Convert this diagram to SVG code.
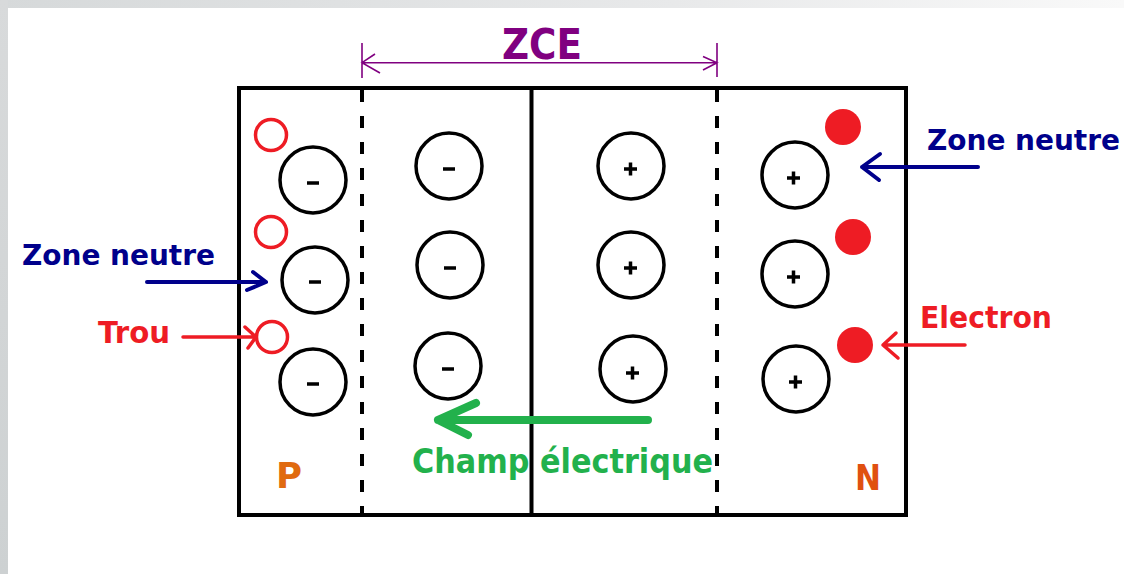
<svg xmlns="http://www.w3.org/2000/svg" width="1124" height="574" viewBox="0 0 1124 574">
  <defs>
    <linearGradient id="topg" x1="0" y1="0" x2="1" y2="0">
      <stop offset="0" stop-color="#d6d9da"/>
      <stop offset="0.6" stop-color="#e8e9ea"/>
      <stop offset="1" stop-color="#f9f9f9"/>
    </linearGradient>
    <linearGradient id="leftg" x1="0" y1="0" x2="0" y2="1">
      <stop offset="0" stop-color="#d8dadb"/>
      <stop offset="1" stop-color="#cdd1d2"/>
    </linearGradient>
  </defs>
  <style>
    .box{fill:none;stroke:#000;stroke-width:4}
    .dash{stroke:#000;stroke-width:4;stroke-dasharray:12 14}
    .ion{fill:none;stroke:#000;stroke-width:3.5}
    .sign{stroke:#000;stroke-width:3.5;stroke-linecap:butt}
    .hole{fill:none;stroke:#ee1c24;stroke-width:3.5}
    .elec{fill:#ee1c24}
    .lbl{font-family:"DejaVu Sans","Liberation Sans",sans-serif;font-weight:bold}
    .blue{fill:#00008b}
    .red{fill:#ee1c24}
    .barrow{fill:none;stroke:#00008b;stroke-width:4;stroke-linecap:round;stroke-linejoin:round}
    .rarrow{fill:none;stroke:#ee1c24;stroke-width:3.5;stroke-linecap:round;stroke-linejoin:round}
    .garrow{fill:none;stroke:#22b14c;stroke-width:8;stroke-linecap:round;stroke-linejoin:round}
    .parrow{fill:none;stroke:#800080;stroke-width:1.6}
  </style>
  <rect x="0" y="0" width="1124" height="574" fill="#ffffff"/>
  <rect x="0" y="0" width="1124" height="8" fill="url(#topg)"/>
  <rect x="0" y="0" width="8" height="574" fill="url(#leftg)"/>

  <g id="junction">
    <rect class="box" x="239" y="88" width="667" height="427"/>
    <line class="dash" x1="362" y1="90" x2="362" y2="513"/>
    <line class="dash" x1="717" y1="90" x2="717" y2="513"/>
    <line x1="531.5" y1="88" x2="531.5" y2="515" stroke="#000" stroke-width="4"/>
  </g>

  <g id="ions-minus">
    <circle class="ion" cx="313" cy="180" r="33"/><line class="sign" x1="307" y1="183" x2="319" y2="183"/>
    <circle class="ion" cx="315" cy="280" r="33"/><line class="sign" x1="309" y1="282" x2="321" y2="282"/>
    <circle class="ion" cx="313" cy="382" r="33"/><line class="sign" x1="307" y1="384" x2="319" y2="384"/>
    <circle class="ion" cx="449" cy="166" r="33"/><line class="sign" x1="443" y1="169" x2="455" y2="169"/>
    <circle class="ion" cx="450" cy="265" r="33"/><line class="sign" x1="444" y1="268" x2="456" y2="268"/>
    <circle class="ion" cx="448" cy="366" r="33"/><line class="sign" x1="442" y1="369" x2="454" y2="369"/>
  </g>

  <g id="ions-plus">
    <circle class="ion" cx="631" cy="166" r="33"/><path class="sign" d="M624 169h13M630.5 162.5v13"/>
    <circle class="ion" cx="631" cy="265" r="33"/><path class="sign" d="M624 268h13M630.5 261.5v13"/>
    <circle class="ion" cx="633" cy="369" r="33"/><path class="sign" d="M626 373h13M632.5 366.5v13"/>
    <circle class="ion" cx="795" cy="175" r="33"/><path class="sign" d="M787 178h13M793.5 171.5v13"/>
    <circle class="ion" cx="795" cy="274" r="33"/><path class="sign" d="M787 277h13M793.5 270.5v13"/>
    <circle class="ion" cx="796" cy="379" r="33"/><path class="sign" d="M789 382h13M795.5 375.5v13"/>
  </g>

  <g id="holes">
    <circle class="hole" cx="271" cy="135" r="15.5"/>
    <circle class="hole" cx="271" cy="232" r="15.5"/>
    <circle class="hole" cx="272" cy="337" r="15.5"/>
  </g>

  <g id="electrons">
    <circle class="elec" cx="843" cy="127" r="18"/>
    <circle class="elec" cx="853" cy="237" r="18"/>
    <circle class="elec" cx="855" cy="345" r="18"/>
  </g>

  <g id="connectors">
    <path class="barrow" d="M978 167H862M880 154L862 167L879 180"/>
    <path class="barrow" d="M147 282H266M253 272L266 282L247 290"/>
    <path class="rarrow" d="M183 337H256M245 327L256 337L248 348"/>
    <path class="rarrow" d="M965 345H883M896 333L883 345L898 358"/>
    <path class="garrow" d="M648 420H438M476 403L438 420L468 435"/>
    <path class="parrow" d="M362 62.7H717M362 43V78M717 43V77M375 54L362 62.7L380 73M703 56.5L717 62.7L703 70"/>
  </g>

  <g id="labels">
    <text class="lbl" x="502" y="59" font-size="42" fill="#800080" textLength="80" lengthAdjust="spacingAndGlyphs">ZCE</text>
    <text class="lbl blue" x="927" y="150" font-size="28" textLength="193" lengthAdjust="spacingAndGlyphs">Zone neutre</text>
    <text class="lbl blue" x="22" y="265" font-size="28" textLength="193" lengthAdjust="spacingAndGlyphs">Zone neutre</text>
    <text class="lbl red" x="98" y="343" font-size="30" textLength="72" lengthAdjust="spacingAndGlyphs">Trou</text>
    <text class="lbl red" x="920" y="328" font-size="30" textLength="132" lengthAdjust="spacingAndGlyphs">Electron</text>
    <text class="lbl" x="412" y="473" font-size="34" fill="#22b14c" textLength="301" lengthAdjust="spacingAndGlyphs">Champ électrique</text>
    <text class="lbl" x="276" y="488" font-size="36" fill="#e06a10" textLength="26" lengthAdjust="spacingAndGlyphs">P</text>
    <text class="lbl" x="855" y="490" font-size="36" fill="#e05010" textLength="26" lengthAdjust="spacingAndGlyphs">N</text>
  </g>
</svg>
